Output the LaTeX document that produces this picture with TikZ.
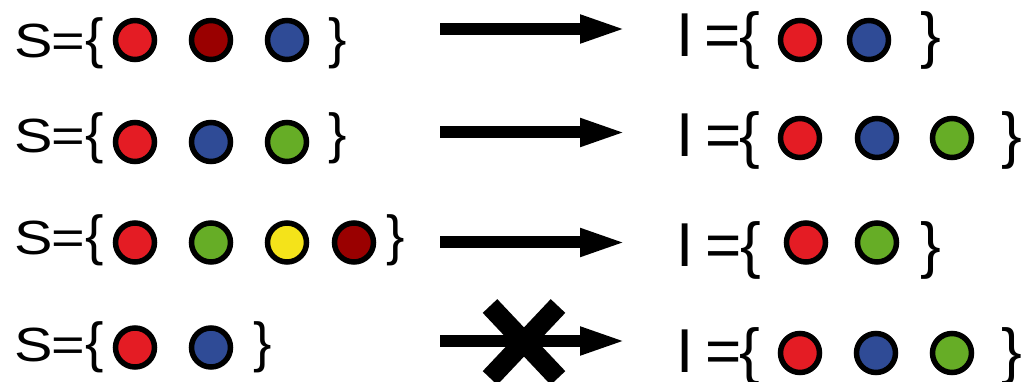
\documentclass[tikz,border=0pt]{standalone}
\usepackage{fontspec}
\usetikzlibrary{arrows.meta}
\newfontfamily\lfam[FakeStretch=1.2]{Liberation Sans}
\newfontfamily\rfam{Liberation Sans}
\newcommand\lsz{\lfam\fontsize{48pt}{48pt}\selectfont}
\newcommand\lbrsz{\rfam\fontsize{55pt}{55pt}\selectfont}
\newcommand\rsz{\rfam\fontsize{62pt}{62pt}\selectfont}
\definecolor{cred}{HTML}{E41C24}
\definecolor{cdark}{HTML}{9A0000}
\definecolor{cblue}{HTML}{2F4B96}
\definecolor{cgreen}{HTML}{66AD26}
\definecolor{cyellow}{HTML}{F4E31A}
\tikzset{
  txt/.style={inner sep=0pt, outer sep=0pt, anchor=base west},
  ball/.style={circle, draw=black, line width=5.5pt, minimum size=39pt, inner sep=0pt, fill=#1},
  bigarrow/.style={line width=12pt, line cap=butt, -{Triangle[length=48pt,width=25pt]}},
  cross/.style={line width=20pt, line cap=butt},
}
\begin{document}
\begin{tikzpicture}[x=1pt,y=-1pt]
\useasboundingbox (0,0) rectangle (1021,382);
% ---------- row 1 ----------
\node[txt] (s1S) at (14.4,57.5) {\lsz S};
\node[txt] (s1eq) at (51.8,57.5) {\lsz =};
\node[txt] (s1lb) at (85.5,57.5) {\lbrsz \{};
\node[ball=cred] (s1a) at (135,40) {};
\node[ball=cdark] (s1b) at (211,40) {};
\node[ball=cblue] (s1c) at (287,40) {};
\node[txt] (s1rb) at (328,57.5) {\lbrsz \}};
\coordinate (a1s) at (440,29);
\coordinate (a1e) at (628,29);
\draw[bigarrow] (a1s) -- (a1e);
\node[txt] (i1I) at (676,57) {\rsz I};
\node[txt] (i1eq) at (704,57) {\rsz =};
\node[txt] (i1lb) at (739,57) {\rsz \{};
\node[ball=cred] (i1a) at (800,40) {};
\node[ball=cblue] (i1b) at (869,40) {};
\node[txt] (i1rb) at (920,57) {\rsz \}};
% ---------- row 2 ----------
\node[txt] (s2S) at (14.4,152.5) {\lsz S};
\node[txt] (s2eq) at (51.8,152.5) {\lsz =};
\node[txt] (s2lb) at (85.5,152.5) {\lbrsz \{};
\node[ball=cred] (s2a) at (135,142) {};
\node[ball=cblue] (s2b) at (211,142) {};
\node[ball=cgreen] (s2c) at (287,142) {};
\node[txt] (s2rb) at (328,152.5) {\lbrsz \}};
\coordinate (a2s) at (440,132.5);
\coordinate (a2e) at (628,132.5);
\draw[bigarrow] (a2s) -- (a2e);
\node[txt] (i2I) at (676,157) {\rsz I};
\node[txt] (i2eq) at (705,157) {\rsz =};
\node[txt] (i2lb) at (739,157) {\rsz \{};
\node[ball=cred] (i2a) at (800,138) {};
\node[ball=cblue] (i2b) at (877,138) {};
\node[ball=cgreen] (i2c) at (952,138) {};
\node[txt] (i2rb) at (1001,157) {\rsz \}};
% ---------- row 3 ----------
\node[txt] (s3S) at (14.4,254.5) {\lsz S};
\node[txt] (s3eq) at (51.8,254.5) {\lsz =};
\node[txt] (s3lb) at (85.5,254.5) {\lbrsz \{};
\node[ball=cred] (s3a) at (135,242.5) {};
\node[ball=cgreen] (s3b) at (211,242.5) {};
\node[ball=cyellow] (s3c) at (287,242.5) {};
\node[ball=cdark] (s3d) at (354,242.5) {};
\node[txt] (s3rb) at (386,254.5) {\lbrsz \}};
\coordinate (a3s) at (440,242.5);
\coordinate (a3e) at (628,242.5);
\draw[bigarrow] (a3s) -- (a3e);
\node[txt] (i3I) at (676,267) {\rsz I};
\node[txt] (i3eq) at (705,267) {\rsz =};
\node[txt] (i3lb) at (740,267) {\rsz \{};
\node[ball=cred] (i3a) at (806,242.5) {};
\node[ball=cgreen] (i3b) at (877,242.5) {};
\node[txt] (i3rb) at (920,267) {\rsz \}};
% ---------- row 4 ----------
\node[txt] (s4S) at (14.4,361.5) {\lsz S};
\node[txt] (s4eq) at (51.8,361.5) {\lsz =};
\node[txt] (s4lb) at (85.5,361.5) {\lbrsz \{};
\node[ball=cred] (s4a) at (135,347.5) {};
\node[ball=cblue] (s4b) at (211,347.5) {};
\node[txt] (s4rb) at (253,361.5) {\lbrsz \}};
\coordinate (a4s) at (440,341);
\coordinate (a4e) at (628,341);
\draw[bigarrow] (a4s) -- (a4e);
\coordinate (x1) at (490,306);
\coordinate (x2) at (558,378);
\coordinate (x3) at (558,306);
\coordinate (x4) at (490,378);
\draw[cross] (x1) -- (x2);
\draw[cross] (x3) -- (x4);
\node[txt] (i4I) at (676,372) {\rsz I};
\node[txt] (i4eq) at (705,372) {\rsz =};
\node[txt] (i4lb) at (739,372) {\rsz \{};
\node[ball=cred] (i4a) at (800,353) {};
\node[ball=cblue] (i4b) at (876,353) {};
\node[ball=cgreen] (i4c) at (952,353) {};
\node[txt] (i4rb) at (1001,372) {\rsz \}};
\end{tikzpicture}
\end{document}
